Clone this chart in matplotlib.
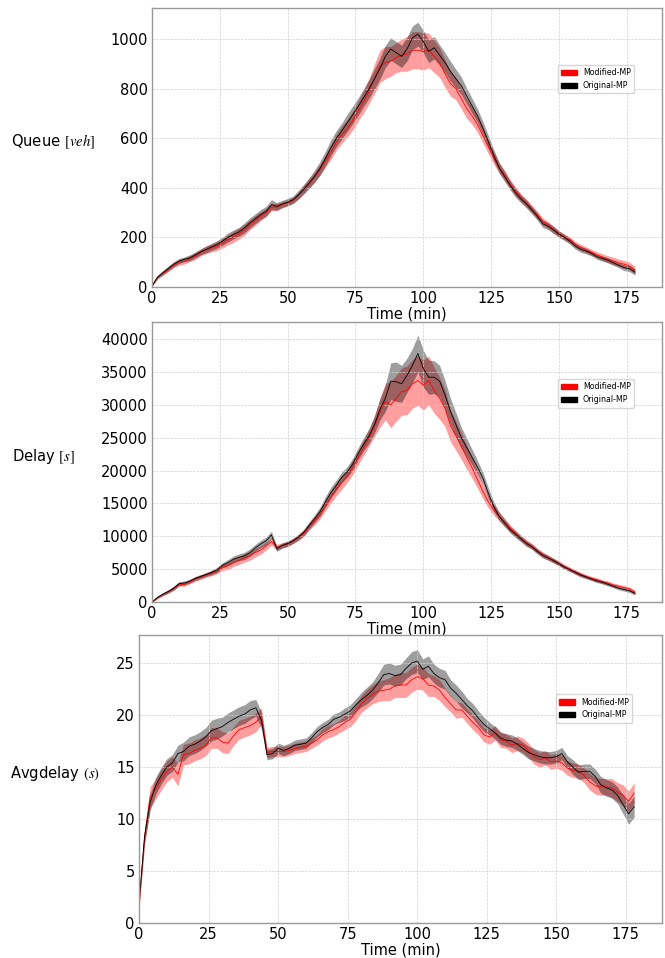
import numpy as np
import matplotlib
matplotlib.use("Agg")
import matplotlib.pyplot as plt
from matplotlib.patches import Patch

plt.rcParams['font.family'] = ['DejaVu Sans']
plt.rcParams['mathtext.fontset'] = 'stix'

# time grid (min)
t = np.arange(0, 180, 2)

# Queue [veh]
queue_orig = [5, 40, 58, 75, 92, 105, 112, 118, 130, 142,
              152, 162, 172, 185, 200, 212, 222, 238, 258, 275,
              292, 305, 332, 325, 335, 342, 352, 372, 395, 420,
              448, 480, 520, 563, 600, 630, 663, 695, 728, 764,
              800, 840, 880, 930, 960, 945, 930, 960, 1005, 1020,
              990, 950, 965, 935, 905, 870, 840, 812, 770, 730,
              690, 640, 585, 530, 480, 445, 410, 380, 355, 335,
              310, 285, 255, 245, 230, 213, 200, 185, 165, 152,
              145, 135, 122, 115, 108, 98, 88, 78, 74, 60]
queue_orig_sd = [3, 6, 8, 10, 10, 10, 10, 12, 12, 12,
                 14, 14, 15, 16, 18, 18, 18, 20, 20, 20,
                 20, 20, 20, 15, 15, 15, 15, 18, 20, 22,
                 25, 28, 30, 32, 32, 32, 35, 35, 35, 35,
                 38, 40, 42, 45, 45, 45, 45, 48, 48, 48,
                 45, 45, 45, 42, 40, 40, 38, 35, 32, 30,
                 28, 26, 25, 22, 20, 20, 18, 18, 16, 16,
                 15, 15, 15, 14, 14, 13, 12, 12, 12, 12,
                 11, 10, 10, 10, 10, 10, 10, 12, 12, 12]
queue_mod = [5, 38, 55, 72, 88, 100, 105, 115, 125, 140,
             150, 158, 165, 178, 190, 202, 215, 230, 250, 268,
             285, 300, 322, 322, 332, 340, 350, 370, 395, 420,
             445, 475, 510, 545, 585, 615, 640, 672, 710, 748,
             790, 840, 890, 905, 910, 925, 935, 940, 955, 955,
             950, 955, 930, 905, 860, 820, 800, 760, 720, 690,
             655, 610, 565, 520, 480, 450, 415, 385, 360, 338,
             315, 290, 265, 250, 232, 215, 202, 190, 172, 160,
             150, 140, 130, 120, 112, 105, 98, 92, 85, 68]
queue_mod_sd = [3, 6, 8, 10, 10, 12, 12, 12, 14, 14,
                15, 16, 18, 20, 20, 22, 22, 22, 20, 20,
                18, 16, 15, 15, 12, 12, 12, 14, 16, 18,
                20, 22, 25, 30, 32, 35, 35, 38, 40, 45,
                50, 60, 65, 65, 60, 60, 65, 70, 75, 75,
                75, 70, 65, 60, 55, 50, 45, 42, 40, 35,
                32, 30, 28, 25, 22, 20, 18, 18, 16, 16,
                15, 15, 14, 14, 14, 12, 12, 12, 12, 12,
                12, 12, 12, 14, 14, 15, 15, 15, 15, 15]

# Delay [s]
delay_orig = [0, 700, 1200, 1600, 2100, 2800, 2900, 3200, 3600, 3900,
              4200, 4500, 4900, 5600, 6000, 6500, 6800, 7000, 7500, 8200,
              8800, 9300, 10200, 8100, 8600, 8900, 9300, 9900, 10600, 11700,
              12700, 13800, 15300, 16700, 17800, 19000, 19800, 21000, 22600, 24000,
              25300, 27000, 29300, 31000, 33600, 33500, 33200, 34500, 36000, 37800,
              35500, 34200, 34200, 33600, 31500, 29000, 27000, 25000, 23500, 22000,
              20500, 18800, 16500, 14500, 13000, 12000, 11000, 10300, 9600, 8900,
              8400, 7700, 7100, 6700, 6300, 5800, 5300, 4900, 4500, 4100,
              3800, 3500, 3200, 3000, 2700, 2400, 2100, 1900, 1700, 1300]
delay_orig_sd = [50, 150, 200, 250, 300, 300, 300, 300, 300, 300,
                 300, 350, 400, 400, 450, 500, 500, 550, 550, 550,
                 550, 550, 550, 400, 400, 400, 400, 450, 500, 550,
                 600, 700, 800, 800, 800, 800, 800, 900, 900, 1000,
                 1100, 1300, 1600, 2000, 2800, 3000, 2800, 2600, 2600, 2800,
                 2800, 2600, 2500, 2400, 2200, 2000, 1800, 1600, 1400, 1200,
                 1000, 900, 800, 700, 600, 550, 500, 500, 450, 450,
                 400, 400, 400, 350, 350, 300, 300, 300, 300, 300,
                 250, 250, 250, 250, 250, 250, 250, 250, 250, 250]
delay_mod = [0, 650, 1150, 1600, 2100, 2700, 2700, 3100, 3500, 3800,
             4100, 4400, 4700, 5300, 5500, 6000, 6300, 6700, 7000, 7500,
             7900, 8500, 9200, 8300, 8600, 8800, 9300, 9800, 10500, 11500,
             12400, 13400, 14700, 16000, 17200, 18200, 19200, 20500, 22000, 23500,
             25000, 26800, 28800, 30500, 30000, 31000, 32000, 32200, 33200, 33700,
             33000, 33700, 32200, 31000, 29500, 26800, 25300, 23700, 22000, 20400,
             18600, 16800, 15200, 14000, 13000, 12100, 11200, 10400, 9700, 9000,
             8500, 7800, 7200, 6800, 6300, 5900, 5400, 5000, 4600, 4200,
             3900, 3600, 3400, 3100, 2900, 2600, 2400, 2200, 2000, 1500]
delay_mod_sd = [50, 150, 200, 250, 300, 300, 300, 300, 350, 350,
                350, 400, 400, 500, 550, 600, 600, 650, 650, 650,
                650, 600, 550, 450, 400, 400, 400, 450, 500, 550,
                650, 700, 800, 900, 1000, 1000, 1000, 1100, 1100, 1200,
                1300, 1600, 2200, 2800, 3500, 3500, 3600, 3700, 3700, 3800,
                3800, 3700, 3500, 3200, 2800, 2400, 2200, 2000, 1800, 1600,
                1300, 1100, 900, 800, 700, 600, 550, 500, 450, 450,
                400, 400, 400, 400, 350, 350, 350, 300, 300, 300,
                300, 300, 300, 300, 300, 300, 300, 300, 300, 300]

# Avg delay (s)
avg_orig = [1.9, 8.3, 11.6, 13.2, 14.2, 15.0, 15.4, 16.3, 16.5, 17.0,
            17.2, 17.5, 17.9, 18.5, 18.7, 18.9, 19.3, 19.6, 19.9, 20.1,
            20.5, 20.7, 19.5, 16.2, 16.3, 16.8, 16.6, 16.8, 17.1, 17.2,
            17.3, 17.8, 18.4, 18.8, 19.1, 19.6, 19.8, 20.1, 20.4, 21.0,
            21.5, 21.9, 22.4, 23.1, 23.9, 24.0, 23.8, 23.9, 24.5, 25.0,
            25.2, 24.4, 24.7, 24.0, 23.6, 23.4, 22.6, 22.1, 21.5, 20.9,
            20.4, 19.7, 19.1, 18.7, 18.3, 17.8, 17.6, 17.5, 17.2, 16.8,
            16.4, 16.2, 16.0, 15.9, 15.9, 16.0, 16.3, 15.5, 15.0, 14.5,
            14.6, 14.6, 14.1, 13.3, 13.0, 12.8, 12.3, 11.4, 10.5, 11.2]
avg_orig_sd = [0.3, 0.6, 0.8, 0.8, 0.8, 0.8, 0.8, 0.8, 0.9, 0.9,
               0.9, 0.9, 0.9, 1.0, 1.0, 0.9, 0.9, 0.9, 0.9, 0.9,
               0.9, 0.8, 0.8, 0.5, 0.5, 0.5, 0.5, 0.5, 0.5, 0.5,
               0.5, 0.5, 0.5, 0.5, 0.5, 0.5, 0.5, 0.6, 0.6, 0.6,
               0.7, 0.8, 0.8, 0.9, 1.0, 1.0, 1.0, 1.0, 1.0, 1.1,
               1.1, 1.0, 1.0, 0.9, 0.9, 0.9, 0.8, 0.8, 0.8, 0.7,
               0.7, 0.7, 0.7, 0.6, 0.6, 0.6, 0.6, 0.6, 0.6, 0.6,
               0.6, 0.6, 0.6, 0.6, 0.6, 0.6, 0.6, 0.6, 0.7, 0.7,
               0.7, 0.7, 0.7, 0.8, 0.8, 0.8, 0.8, 0.9, 1.0, 1.0]
avg_mod = [1.5, 8.3, 12.1, 12.9, 13.8, 14.6, 15.0, 14.3, 16.2, 16.3,
           16.6, 16.8, 17.1, 17.8, 17.8, 17.4, 17.3, 18.0, 18.6, 18.8,
           19.0, 19.3, 19.9, 16.4, 16.5, 16.5, 16.5, 16.6, 16.8, 16.9,
           17.0, 17.3, 17.6, 18.1, 18.4, 18.6, 18.9, 19.3, 19.6, 20.3,
           21.1, 21.6, 22.0, 22.3, 22.4, 22.5, 22.8, 22.9, 22.9, 23.4,
           23.7, 23.5, 22.9, 22.8, 22.4, 21.7, 21.1, 20.5, 20.5, 19.9,
           19.3, 18.8, 18.1, 17.9, 18.3, 17.6, 17.5, 17.1, 17.3, 17.1,
           16.6, 16.0, 15.7, 15.9, 15.5, 15.6, 15.4, 14.9, 14.7, 14.6,
           14.2, 13.6, 13.2, 13.1, 13.1, 13.0, 12.6, 12.3, 11.7, 12.5]
avg_mod_sd = [0.3, 0.8, 1.0, 1.0, 1.0, 1.0, 1.0, 1.1, 1.0, 1.0,
              1.0, 1.0, 1.0, 1.0, 1.0, 1.0, 1.0, 0.9, 0.9, 0.9,
              0.9, 0.9, 0.8, 0.5, 0.5, 0.5, 0.5, 0.5, 0.5, 0.5,
              0.5, 0.5, 0.5, 0.6, 0.6, 0.6, 0.6, 0.7, 0.7, 0.8,
              0.8, 0.9, 0.9, 1.0, 1.0, 1.1, 1.1, 1.2, 1.2, 1.2,
              1.2, 1.1, 1.1, 1.0, 1.0, 0.9, 0.8, 0.8, 0.7, 0.7,
              0.7, 0.7, 0.7, 0.7, 0.7, 0.7, 0.7, 0.7, 0.7, 0.7,
              0.7, 0.7, 0.7, 0.7, 0.7, 0.7, 0.7, 0.7, 0.7, 0.7,
              0.7, 0.8, 0.8, 0.8, 0.8, 0.9, 0.9, 1.0, 1.0, 1.0]

panels = [
    ("Queue $[veh]$", queue_mod, queue_mod_sd, queue_orig, queue_orig_sd,
     [0.2286, 0.7004, 0.767, 0.2912], 1125, -0.112),
    ("Delay $[s]$", delay_mod, delay_mod_sd, delay_orig, delay_orig_sd,
     [0.2286, 0.3716, 0.767, 0.2923], 42600, -0.151),
    ("Avgdelay $(s)$", avg_mod, avg_mod_sd, avg_orig, avg_orig_sd,
     [0.209, 0.0365, 0.7865, 0.3006], 27.7, -0.075),
]

fig = plt.figure(figsize=(6.65, 9.58), dpi=100)

for label, mod, mod_sd, orig, orig_sd, rect, ytop, lx in panels:
    ax = fig.add_axes(rect)
    mod = np.array(mod)
    mod_sd = np.array(mod_sd)
    orig = np.array(orig)
    orig_sd = np.array(orig_sd)
    ax.fill_between(t, mod - mod_sd, mod + mod_sd, color='red', alpha=0.38, lw=0)
    ax.fill_between(t, orig - orig_sd, orig + orig_sd, color='black', alpha=0.38, lw=0)
    ax.plot(t, mod, color='red', lw=0.6)
    ax.plot(t, orig, color='black', lw=0.6)
    ax.set_xlim(0, 188)
    ax.set_ylim(0, ytop)
    ax.set_xticks([0, 25, 50, 75, 100, 125, 150, 175])
    ax.grid(True, ls='--', lw=0.5, color='#d0d0d0')
    ax.tick_params(length=0, labelsize=10.5, pad=3)
    for s in ax.spines.values():
        s.set_color('#999999')
        s.set_linewidth(1.0)
    ax.set_xlabel("Time (min)", fontsize=10.5, labelpad=0)
    ax.set_ylabel(label, fontsize=10.6, rotation=0, ha='right', va='center')
    ax.yaxis.set_label_coords(lx, 0.52)
    handles = [Patch(color='red', label='Modified-MP'),
               Patch(color='black', label='Original-MP')]
    ax.legend(handles=handles, loc='center', bbox_to_anchor=(0.87, 0.745),
              fontsize=5.7, framealpha=0.8)

fig.savefig("out.png", dpi=100)
